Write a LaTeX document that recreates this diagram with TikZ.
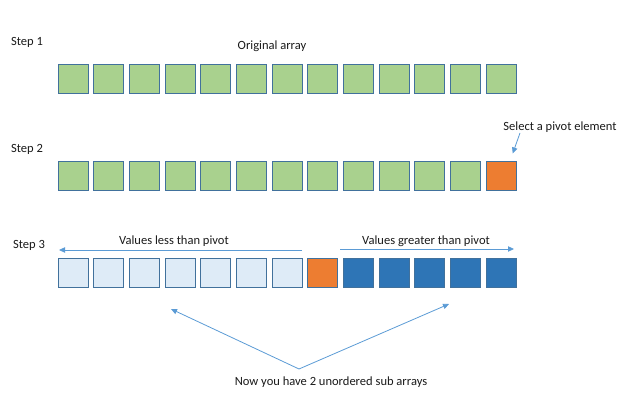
\documentclass[tikz,border=0pt]{standalone}
\usepackage{fontspec}
\setmainfont{Carlito}
\usepackage{tikz}
\usetikzlibrary{arrows.meta,positioning}
\definecolor{cellgreen}{RGB}{169,209,142}
\definecolor{cellorange}{RGB}{237,125,49}
\definecolor{celllight}{RGB}{222,235,247}
\definecolor{celldark}{RGB}{46,117,182}
\definecolor{cellline}{RGB}{65,113,156}
\definecolor{arrowblue}{RGB}{91,155,213}

\begin{document}
\begin{tikzpicture}[
    x=0.75pt, y=-0.75pt,
    cell/.style={rectangle, draw=cellline, line width=0.6pt, inner sep=0pt, minimum width=22.5pt, minimum height=21.75pt},
    label/.style={font=\fontsize{9.4}{11}\selectfont, text=black!90, inner sep=0pt},
    arrow/.style={-{Triangle[length=4.5pt,width=4pt]}, draw=arrowblue, line width=0.6pt}
]
\useasboundingbox (0,0) rectangle (640,409);

% Step 1: original array
\node[label] (s1) at (27, 42) {Step 1};
\node[label] (orig) at (272, 46) {Original array};
\foreach \i in {1,...,13}
    \node[cell, fill=cellgreen] (a\i) at ({73+35.67*(\i-1)}, 78.8) {};

% Step 2: pick the pivot
\node[label] (s2) at (27, 149) {Step 2};
\node[label] (sel) at (560, 127) {Select a pivot element};
\foreach \i in {1,...,12}
    \node[cell, fill=cellgreen] (b\i) at ({73+35.67*(\i-1)}, 175.5) {};
\node[cell, fill=cellorange] (b13) at ({73+35.67*12}, 175.5) {};
\coordinate (selfrom) at (520, 133);
\coordinate (selto) at (512.7, 153.5);
\draw[arrow] (selfrom) -- (selto);

% Step 3: partitioned array
\node[label] (s3) at (29, 245) {Step 3};
\foreach \i in {1,...,7}
    \node[cell, fill=celllight] (c\i) at ({73+35.67*(\i-1)}, 272.8) {};
\node[cell, fill=cellorange] (c8) at ({73+35.67*7}, 272.8) {};
\foreach \i in {9,...,13}
    \node[cell, fill=celldark] (c\i) at ({73+35.67*(\i-1)}, 272.8) {};

\node[label] (less) at (174, 241) {Values less than pivot};
\coordinate (lessfrom) at (302, 250);
\coordinate (lessto) at (59, 250);
\draw[arrow] (lessfrom) -- (lessto);

\node[label] (more) at (426, 241) {Values greater than pivot};
\coordinate (morefrom) at (340, 249);
\coordinate (moreto) at (514, 249);
\draw[arrow] (morefrom) -- (moreto);

% Sub arrays note
\node[label] (note) at (331, 382) {Now you have 2 unordered sub arrays};
\coordinate (apex) at (299, 369);
\coordinate (lefttip) at (171, 309);
\coordinate (righttip) at (449, 304);
\draw[arrow] (apex) -- (lefttip);
\draw[arrow] (apex) -- (righttip);

\end{tikzpicture}
\end{document}
